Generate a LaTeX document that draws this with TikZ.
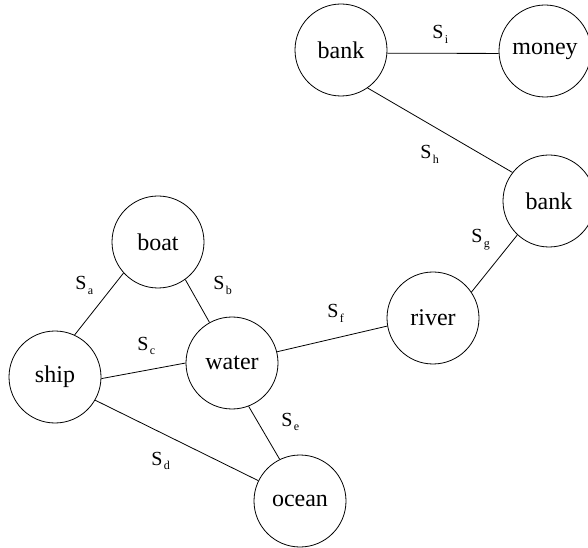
\documentclass[tikz,border=0pt]{standalone}
\usepackage{fontspec}
\setmainfont{Liberation Serif}
\newcommand\sensetag[1]{S\kern1.2pt\raisebox{-3.4pt}{\fontsize{9}{9}\selectfont #1}}
\begin{document}
\begin{tikzpicture}[x=0.75pt,y=-0.75pt,
  word/.style={circle,draw,line width=0.6pt,minimum size=69pt,inner sep=0pt,
    font=\fontsize{18}{18}\selectfont},
  link/.style={line width=0.6pt},
  sense/.style={anchor=base west,inner sep=0pt,font=\fontsize{15}{15}\selectfont}]
\useasboundingbox (0,0) rectangle (588,548);

% word nodes
\node[word] (bankA) at (341,50)  {bank};
\node[word] (money) at (545,51)  {money};
\node[word] (bankB) at (549,201) {bank};
\node[word] (river) at (433,318) {river};
\node[word] (boat)  at (158,242) {boat};
\node[word] (water) at (232,363) {water};
\node[word] (ship)  at (55,377)  {ship};
\node[word] (ocean) at (300,501) {ocean};

% sense links
\draw[link] (bankA.-4)   -- (money.183);
\draw[link] (bankA.-55)  -- (bankB.142);
\draw[link] (bankB.227)  -- (river.34);
\draw[link] (river.190)  -- (water.14);
\draw[link] (boat.-54)   -- (water.119);
\draw[link] (boat.222)   -- (ship.65);
\draw[link] (ship.-2)    -- (water.180);
\draw[link] (ship.-30)   -- (ocean.154);
\draw[link] (water.-69)  -- (ocean.116);

% link labels
\node[sense] (si) at (432,39)  {\sensetag{i}};
\node[sense] (sh) at (420,159) {\sensetag{h}};
\node[sense] (sg) at (471,243) {\sensetag{g}};
\node[sense] (sf) at (327,318) {\sensetag{f}};
\node[sense] (sa) at (75,290)  {\sensetag{a}};
\node[sense] (sb) at (213,290) {\sensetag{b}};
\node[sense] (sc) at (137,350) {\sensetag{c}};
\node[sense] (sd) at (151,465) {\sensetag{d}};
\node[sense] (se) at (281,426) {\sensetag{e}};
\end{tikzpicture}
\end{document}
